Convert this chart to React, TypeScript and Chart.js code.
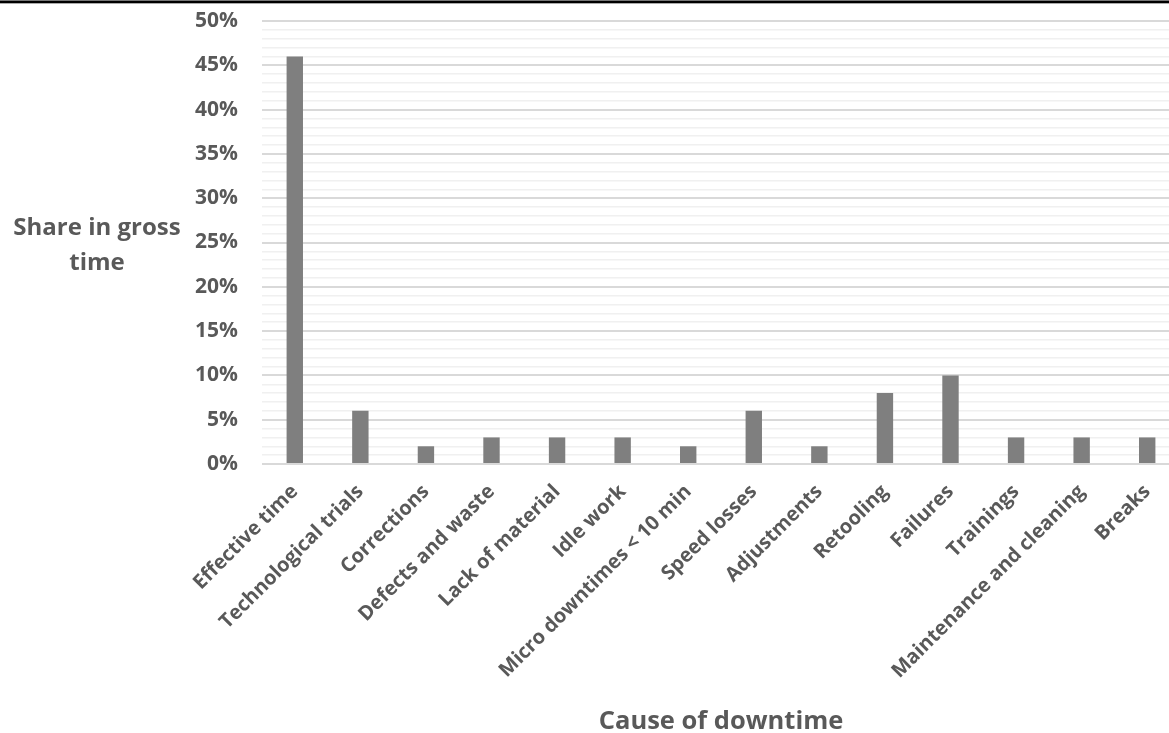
import React, { useEffect, useRef } from "react";
import { Chart, registerables } from "chart.js";

Chart.register(...registerables);

const categories = [
  "Effective time",
  "Technological trials",
  "Corrections",
  "Defects and waste",
  "Lack of material",
  "Idle work",
  "Micro downtimes < 10 min",
  "Speed losses",
  "Adjustments",
  "Retooling",
  "Failures",
  "Trainings",
  "Maintenance and cleaning",
  "Breaks",
];

// Share in gross time, percent
const shares = [46, 6, 2, 3, 3, 3, 2, 6, 2, 8, 10, 3, 3, 3];

const yMax = 50;
const yMajorStep = 5;
const yTitleLines = ["Share in gross", "time"];
const xTitle = "Cause of downtime";

const FONT = "'Open Sans', sans-serif";
const TEXT = "#595959";

// The plot runs a little past the visible right edge, so the canvas is wider than its frame.
const FRAME_W = 1169;
const FRAME_H = 733;
const CANVAS_W = 1180;

const axisTitles = {
  id: "axisTitles",
  afterDraw(chart: Chart) {
    const { ctx, chartArea } = chart;
    ctx.save();
    ctx.fillStyle = TEXT;
    ctx.font = `bold 24px ${FONT}`;
    ctx.textAlign = "center";
    ctx.textBaseline = "alphabetic";
    yTitleLines.forEach((line, i) => {
      ctx.fillText(line, 97, 235 + i * 35);
    });
    ctx.font = `bold 25.5px ${FONT}`;
    ctx.fillText(xTitle, (chartArea.left + chartArea.right) / 2, 729);
    ctx.restore();
  },
};

export default function App() {
  const ref = useRef<HTMLCanvasElement>(null);

  useEffect(() => {
    if (!ref.current) return;
    const chart = new Chart(ref.current, {
      type: "bar",
      data: {
        labels: categories,
        datasets: [
          {
            data: shares,
            backgroundColor: "#7f7f7f",
            borderWidth: 0,
            barPercentage: 0.5,
            categoryPercentage: 0.5,
          },
        ],
      },
      options: {
        animation: false,
        responsive: false,
        layout: { padding: 0 },
        plugins: { legend: { display: false }, tooltip: { enabled: false } },
        scales: {
          x: {
            grid: { display: false, drawTicks: false },
            border: { display: false },
            ticks: {
              color: TEXT,
              font: { family: FONT, weight: "bold", size: 20 },
              minRotation: 45,
              maxRotation: 45,
              autoSkip: false,
              padding: 16,
            },
            afterFit(scale: any) {
              scale.height = 269;
              scale.paddingLeft = 0;
              scale.paddingRight = 0;
            },
          },
          y: {
            min: 0,
            max: yMax,
            grid: {
              drawTicks: false,
              color: (c: any) => (c.tick.value % yMajorStep === 0 ? "#d9d9d9" : "#f0f0f0"),
              lineWidth: (c: any) => (c.tick.value % yMajorStep === 0 ? 2 : 1.5),
            },
            border: { display: false },
            ticks: {
              stepSize: 1,
              autoSkip: false,
              maxTicksLimit: 100,
              padding: 24,
              color: TEXT,
              font: { family: FONT, weight: "bold", size: 21 },
              callback: (v: any) => (Number(v) % yMajorStep === 0 ? `${v}%` : ""),
            },
            afterFit(scale: any) {
              scale.width = 262;
              scale.paddingTop = 21;
              scale.paddingBottom = 0;
            },
          },
        },
      },
      plugins: [axisTitles],
    });
    return () => chart.destroy();
  }, []);

  return (
    <div
      style={{
        position: "fixed",
        left: 0,
        top: 0,
        width: FRAME_W,
        height: FRAME_H,
        overflow: "hidden",
        background: "#fff",
      }}
    >
      <canvas ref={ref} width={CANVAS_W} height={FRAME_H} style={{ display: "block" }} />
      <div
        style={{
          position: "absolute",
          left: 0,
          top: 0,
          width: FRAME_W,
          height: 2,
          background: "#000",
          borderTop: "1px solid #777",
          borderBottom: "1px solid #aaa",
        }}
      />
    </div>
  );
}
